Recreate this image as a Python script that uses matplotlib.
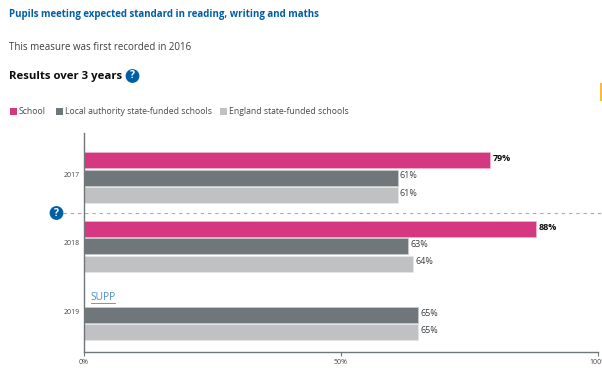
import matplotlib
matplotlib.use('Agg')
import matplotlib.pyplot as plt
from matplotlib.patches import Rectangle, Circle

# Values
years = ['2017', '2018', '2019']
school = [79, 88, None]
local_authority = [61, 63, 65]
england = [61, 64, 65]
series_names = ['School', 'Local authority state-funded schools', 'England state-funded schools']
x_ticks = [0, 50, 100]

PINK = '#d53880'
DARK = '#6f777b'
LIGHT = '#bfc1c3'
BLUE = '#005ea5'
TEXT = '#3a3e40'
W, H = 602, 372

plt.rcParams['font.family'] = ['Open Sans', 'DejaVu Sans']

fig = plt.figure(figsize=(W / 100, H / 100), dpi=100)

# Whole figure overlay in pixel coordinates for page elements
page = fig.add_axes([0, 0, 1, 1])
page.set_xlim(0, W)
page.set_ylim(H, 0)
page.axis('off')

page.text(9, 15, 'Pupils meeting expected standard in reading, writing and maths', fontsize=7.05,
          fontweight='bold', color=BLUE, va='center')
page.text(9, 47, 'This measure was first recorded in 2016', fontsize=7.05, color=TEXT, va='center')
page.text(9, 76, 'Results over 3 years', fontsize=8.2, fontweight='bold', color='#0b0c0c', va='center')


def help_icon(x, y):
    page.add_patch(Circle((x, y), 6.2, color=BLUE, zorder=5))
    page.text(x, y, '?', color='white', fontsize=7.5, fontweight='bold', ha='center', va='center', zorder=6)


help_icon(132.5, 76)
help_icon(56.5, 213)

# Legend
legend_x = [9, 55, 219]
for x, name, col in zip(legend_x, series_names, [PINK, DARK, LIGHT]):
    page.add_patch(Rectangle((x + 0.5, 108), 7, 7, facecolor=col, edgecolor='none'))
    page.text(x + 10, 112, name, fontsize=6.22, color='#454a4c', va='center')

# Orange mark at the right edge
page.add_patch(Rectangle((600, 83), 2, 18, facecolor='#fdb93c', edgecolor='none'))

# Separator between the years
page.plot([63, 602], [213, 213], color='#a8abad', lw=0.8, dashes=(3, 3.5))

# Chart area: 84..598 px wide, 133..352 px tall
ax = fig.add_axes([84 / W, 1 - 352 / H, 514 / W, 219 / H])
ax.patch.set_alpha(0)

positions = [0, 1, 2]
pitch = 17.3 / 68.7
height = 16 / 68.7
label_shift = 1.5 / 68.7
for i, pos in enumerate(positions):
    if school[i] is not None:
        ax.barh(pos - pitch, school[i], height, color=PINK, edgecolor='#eeb4cf', linewidth=0.5)
        ax.text(school[i] + 0.45, pos - pitch - label_shift, f'{school[i]}%', fontsize=6.5, fontweight='bold',
                color='#0b0c0c', va='center')
    ax.barh(pos, local_authority[i], height, color=DARK, edgecolor='#c9cbcd', linewidth=0.5)
    ax.text(local_authority[i] + 0.45, pos - label_shift, f'{local_authority[i]}%', fontsize=6.5, color=TEXT, va='center')
    ax.barh(pos + pitch, england[i], height, color=LIGHT, edgecolor='#e6e7e8', linewidth=0.5)
    ax.text(england[i] + 0.45, pos + pitch - label_shift, f'{england[i]}%', fontsize=6.5, color=TEXT, va='center')

ax.text(1.3, 2 - pitch, 'SUPP', fontsize=7.3, color='#4a90c4', va='center', ha='left')
ax.plot([1.3, 6.0], [2 - pitch + 0.085, 2 - pitch + 0.085], color='#4a90c4', lw=0.6)

ax.set_xlim(0, 100)
ax.set_ylim((352 - 177.5) / 68.7, (133 - 177.5) / 68.7)
ax.set_yticks([p - 0.05 for p in positions], years, fontsize=5, color='#444444')
ax.set_xticks(x_ticks, [f'{t}%' for t in x_ticks], fontsize=5, color='#444444')
ax.tick_params(axis='y', length=0, pad=3)
ax.tick_params(axis='x', length=3, width=0.8, color=DARK, pad=2)
for side in ['top', 'right']:
    ax.spines[side].set_visible(False)
for side in ['left', 'bottom']:
    ax.spines[side].set_color(DARK)
    ax.spines[side].set_linewidth(1.0)

fig.savefig('out.png', dpi=100)
